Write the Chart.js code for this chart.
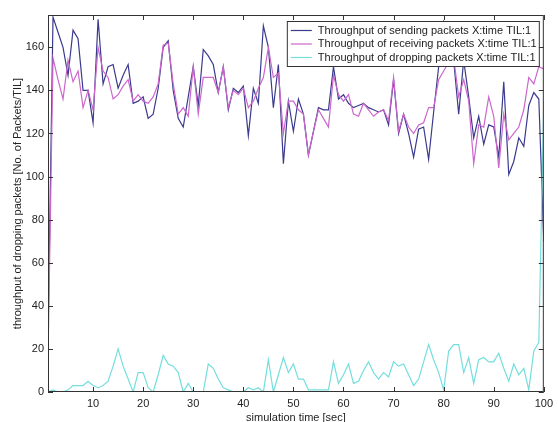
<!DOCTYPE html>
<html>
<head>
<meta charset="utf-8">
<script src="https://cdn.jsdelivr.net/npm/chart.js@4"></script>
<style>
  html, body { margin: 0; padding: 0; background: #fff; }
  #wrap { width: 558px; height: 422px; }
</style>
</head>
<body>
<div id="wrap"><canvas id="c"></canvas></div>
<script>
// simulation time steps (sec)
const time = Array.from({ length: 100 }, (_, i) => i + 1);

const sending = [
  25, 174, 167, 160, 147, 168, 164, 140, 140, 125,
  173, 143, 151, 152, 141, 147, 152, 134, 135, 137,
  127, 129, 141, 160, 163, 140, 127, 123, 137, 151,
  133, 159, 156, 152, 139, 151, 131, 141, 139, 142,
  119, 141, 134, 170, 160, 132, 152, 106, 135, 121,
  136, 129, 110, 121, 132, 131, 131, 151, 136, 138,
  134, 132, 133, 134, 132, 131, 130, 131, 124, 145,
  120, 129, 120, 109, 122, 123, 108, 130, 151, 172,
  168, 154, 129, 154, 137, 118, 128, 115, 124, 123,
  109, 144, 101, 107, 118, 114, 133, 139, 136, 70
];

const receiving = [
  15, 155, 145, 136, 154, 144, 149, 132, 140, 131,
  160, 149, 146, 136, 138, 142, 145, 135, 138, 135,
  134, 137, 143, 161, 162, 143, 129, 132, 128, 151,
  129, 146, 146, 146, 139, 151, 132, 140, 138, 141,
  132, 135, 141, 146, 160, 146, 148, 120, 135, 135,
  131, 129, 110, 121, 131, 127, 123, 147, 138, 135,
  138, 129, 128, 134, 131, 128, 130, 131, 126, 146,
  121, 129, 123, 120, 124, 125, 132, 132, 145, 149,
  153, 155, 137, 145, 135, 106, 124, 123, 137, 128,
  104, 129, 117, 120, 123, 131, 146, 143, 151, 150
];

const dropping = [
  0, 1, 0, 0, 1, 3, 3, 3, 5, 3,
  2, 3, 5, 12, 20, 12, 6, 0, 9, 9,
  2, 0, 8, 17, 13, 12, 9, 0, 4, 0,
  0, 0, 13, 11, 6, 2, 1, 0, 0, 0,
  2, 1, 2, 0, 15, 0, 8, 16, 9, 13,
  6, 6, 1, 1, 1, 1, 1, 14, 4, 8,
  13, 4, 5, 10, 14, 9, 6, 9, 7, 14,
  12, 13, 8, 3, 6, 14, 22, 15, 9, 1,
  19, 22, 22, 9, 16, 4, 15, 16, 14, 14,
  18, 11, 5, 13, 8, 11, 1, 19, 23, 135
];

const xTicks = [10, 20, 30, 40, 50, 60, 70, 80, 90, 100];
const yTicks = [0, 20, 40, 60, 80, 100, 120, 140, 160];

const seriesNames = [
  "Throughput of sending packets X:time TIL:1",
  "Throughput of receiving packets X:time TIL:1",
  "Throughput of dropping packets X:time TIL:1"
];
const seriesColors = ["#3a3a8e", "#cc66cc", "#74dede"];

const FONT = "'Liberation Sans', Arial, sans-serif";
const INK = "#333";

function pts(values) {
  return values.map((v, i) => ({ x: time[i], y: v }));
}

// box around the plot with small inward ticks on every side
const boxTicks = {
  id: "boxTicks",
  afterDatasetsDraw(chart) {
    const { ctx, chartArea: a, scales } = chart;
    const len = 5;
    ctx.save();
    ctx.strokeStyle = INK;
    ctx.lineWidth = 1;
    ctx.strokeRect(a.left + 0.5, a.top + 0.5, a.right - a.left - 1, a.bottom - a.top - 1);
    ctx.beginPath();
    xTicks.forEach(v => {
      const x = Math.round(scales.x.getPixelForValue(v)) + 0.5;
      ctx.moveTo(x, a.bottom); ctx.lineTo(x, a.bottom - len);
      ctx.moveTo(x, a.top); ctx.lineTo(x, a.top + len);
    });
    yTicks.forEach(v => {
      const y = Math.round(scales.y.getPixelForValue(v)) + 0.5;
      ctx.moveTo(a.left, y); ctx.lineTo(a.left + len, y);
      ctx.moveTo(a.right, y); ctx.lineTo(a.right - len, y);
    });
    ctx.stroke();
    ctx.restore();
  }
};

// boxed legend in the top right corner of the plot
const boxLegend = {
  id: "boxLegend",
  afterDraw(chart) {
    const { ctx, chartArea: a } = chart;
    const w = 252, h = 45;
    const left = a.right - w - 5, top = a.top + 6;
    ctx.save();
    ctx.fillStyle = "#fff";
    ctx.fillRect(left, top, w, h);
    ctx.strokeStyle = INK;
    ctx.lineWidth = 1;
    ctx.strokeRect(left + 0.5, top + 0.5, w, h);
    ctx.font = "11px " + FONT;
    ctx.textBaseline = "middle";
    seriesNames.forEach((name, i) => {
      const y = top + 9.5 + i * 13.5;
      ctx.strokeStyle = seriesColors[i];
      ctx.lineWidth = 1.2;
      ctx.beginPath();
      ctx.moveTo(left + 4, y); ctx.lineTo(left + 25, y);
      ctx.stroke();
      ctx.fillStyle = "#222";
      ctx.fillText(name, left + 31, y);
    });
    ctx.restore();
  }
};

const datasets = [sending, receiving, dropping].map((vals, i) => ({
  label: seriesNames[i],
  data: pts(vals),
  borderColor: seriesColors[i],
  backgroundColor: seriesColors[i],
  borderWidth: 1.2,
  pointRadius: 0,
  tension: 0,
  order: 2 - i
}));

new Chart(document.getElementById("c"), {
  type: "line",
  data: { datasets },
  options: {
    responsive: true,
    maintainAspectRatio: false,
    animation: false,
    layout: { padding: { top: 15, right: 10, left: 0, bottom: 0 } },
    plugins: {
      legend: { display: false },
      tooltip: { enabled: false }
    },
    scales: {
      x: {
        type: "linear",
        bounds: "data",
        min: 1,
        max: 100,
        afterBuildTicks: s => { s.ticks = xTicks.map(v => ({ value: v })); },
        afterFit: s => { s.height = 30; },
        grid: { display: false, drawTicks: false },
        border: { display: false },
        ticks: { color: "#222", font: { family: FONT, size: 11 }, padding: 5, maxRotation: 0 },
        title: {
          display: true,
          text: "simulation time [sec]",
          color: "#222",
          font: { family: FONT, size: 11 },
          padding: { top: 0, bottom: -3 }
        }
      },
      y: {
        type: "linear",
        bounds: "data",
        min: 0,
        max: 175,
        afterBuildTicks: s => { s.ticks = yTicks.map(v => ({ value: v })); },
        afterFit: s => { s.width = 48; },
        grid: { display: false, drawTicks: false },
        border: { display: false },
        ticks: { color: "#222", font: { family: FONT, size: 11 }, padding: 4 },
        title: {
          display: true,
          text: "throughput of dropping packets [No. of Packets/TIL]",
          color: "#222",
          font: { family: FONT, size: 11 },
          padding: { top: 11, bottom: 0 }
        }
      }
    }
  },
  plugins: [boxTicks, boxLegend]
});
</script>
</body>
</html>
